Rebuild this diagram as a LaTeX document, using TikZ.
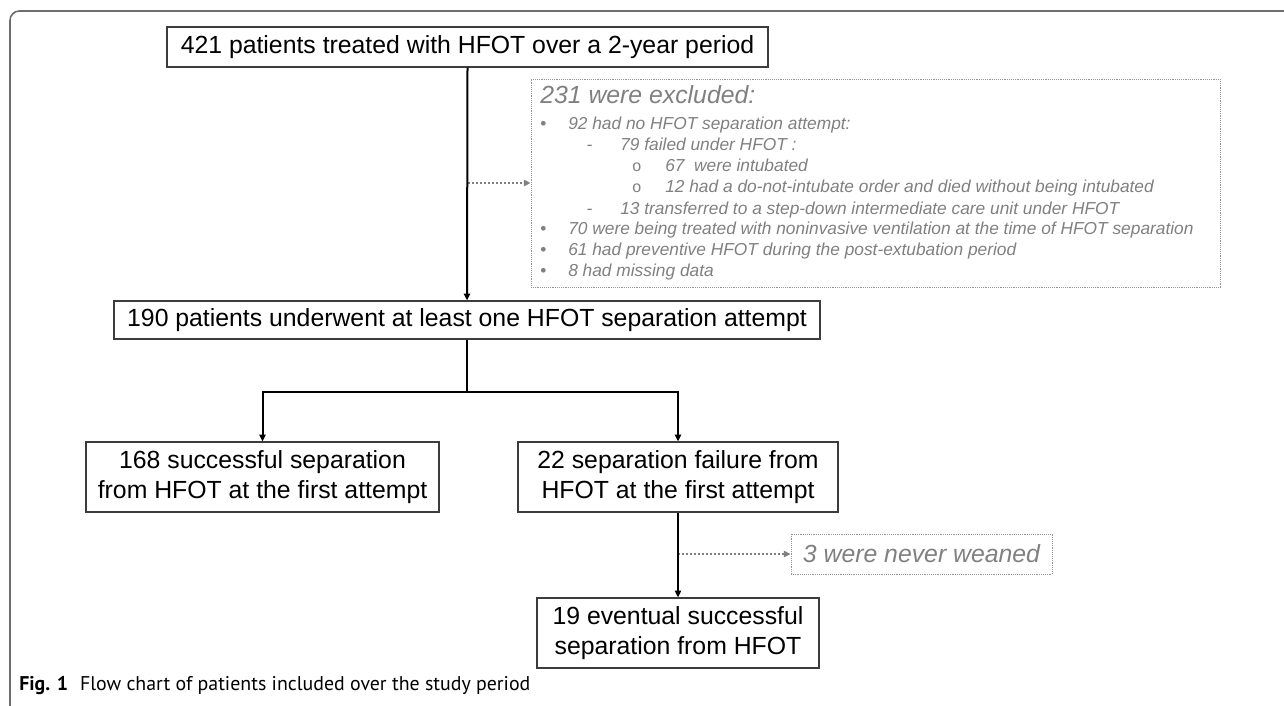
\documentclass[tikz,border=0pt]{standalone}
\usepackage{fontspec}
\setmainfont{Liberation Sans}
\newfontfamily\capfont{PT Sans}
\usetikzlibrary{arrows.meta}

\definecolor{framegray}{RGB}{110,110,110}
\definecolor{boxgray}{RGB}{60,60,60}
\definecolor{exgray}{RGB}{128,128,128}
\definecolor{exrule}{RGB}{150,150,150}

% indent, text start, marker
\newcommand{\exitem}[3]{\hspace*{#1}\makebox[\dimexpr#2-#1\relax][l]{\upshape#3}}
\newcommand{\exring}{{\fontsize{12}{14}\selectfont o}}

\tikzset{
  flowbox/.style={draw=boxgray, line width=0.9pt, inner sep=0pt, align=center, font=\fontsize{18.6}{22.5}\selectfont},
  flowline/.style={line width=1.5pt},
  flowarrow/.style={line width=1.5pt, -{Triangle[length=5pt,width=4.6pt]}},
  exclbox/.style={draw=exrule, line width=0.6pt, dash pattern=on 0.7pt off 0.7pt, inner sep=0pt},
  exclarrow/.style={draw=exgray, line width=1.1pt, dash pattern=on 1.5pt off 1.5pt, -{Triangle[length=5pt,width=4.6pt]}},
  extext/.style={inner sep=0pt, text=exgray, font=\itshape\fontsize{13}{15.75}\selectfont},
}

\begin{document}
\begin{tikzpicture}[x=0.75pt,y=0.75pt,yscale=-1,xscale=1]
\useasboundingbox (0,0) rectangle (1284,706);

%Frame
\draw [color=framegray, line width=1.2pt, rounded corners=7pt] (1290,11) -- (10,11) -- (10,712);

% Flow boxes
\node [flowbox, minimum width=450.75pt, minimum height=30pt] (start) at (467.5,47) {421 patients treated with HFOT over a 2-year period};
\node [flowbox, minimum width=529.5pt, minimum height=28.5pt] (underwent) at (467,320) {190 patients underwent at least one HFOT separation attempt};
\node [flowbox, minimum width=264.75pt, minimum height=52.5pt] (success) at (262.5,477) {168 successful separation\\from HFOT at the first attempt};
\node [flowbox, minimum width=240pt, minimum height=52.5pt] (failure) at (678,477) {22 separation failure from\\HFOT at the first attempt};
\node [flowbox, minimum width=211.5pt, minimum height=52.5pt] (eventual) at (678,633) {19 eventual successful\\separation from HFOT};

% Exclusion boxes
\node [exclbox, minimum width=516.75pt, minimum height=156pt] (excl) at (875.5,183) {};
\node [extext, anchor=base west, font=\itshape\fontsize{18.6}{22.5}\selectfont] (exhead) at (540,104) {231 were excluded:};
\node [extext, anchor=base west] (exlist) at (536,130) {\begin{tabular}[t]{@{}l@{}}
\exitem{3pt}{24pt}{\textbullet}92 had no HFOT separation attempt:\\
\exitem{38pt}{63pt}{-}79 failed under HFOT :\\
\exitem{72pt}{96.75pt}{\exring}67~ were intubated\\
\exitem{72pt}{96.75pt}{\exring}12 had a do-not-intubate order and died without being intubated\\
\exitem{38pt}{63pt}{-}13 transferred to a step-down intermediate care unit under HFOT\\
\exitem{3pt}{24pt}{\textbullet}70 were being treated with noninvasive ventilation at the time of HFOT separation\\
\exitem{3pt}{24pt}{\textbullet}61 had preventive HFOT during the post-extubation period\\
\exitem{3pt}{24pt}{\textbullet}8 had missing data
\end{tabular}};
\node [exclbox, minimum width=195.75pt, minimum height=30pt, text=exgray, font=\itshape\fontsize{18.6}{22.5}\selectfont] (neverweaned) at (921.5,554) {3 were never weaned};

% Connectors
\draw [exclarrow] (start.south |- excl.west) -- (excl.west);
\draw [flowarrow] (start.south) -- (underwent.north);
\coordinate (split) at (467,392);
\draw [flowline] (underwent.south) -- (split);
\draw [flowarrow] (split) -| (success.north);
\draw [flowarrow] (split) -| (failure.north);
\draw [exclarrow] (failure.south |- neverweaned.west) -- (neverweaned.west);
\draw [flowarrow] (failure.south) -- (eventual.north);

% Caption
\node [anchor=west, inner sep=0pt, font=\capfont\fontsize{14.9}{17}\selectfont] (caption) at (19,686) {\textbf{Fig. 1}\hspace{0.6em}Flow chart of patients included over the study period};

\end{tikzpicture}
\end{document}
